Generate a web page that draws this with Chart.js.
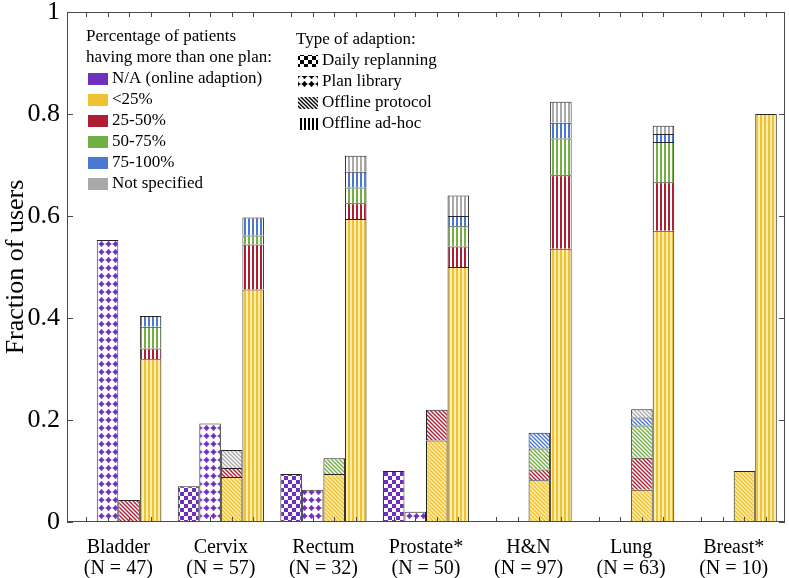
<!DOCTYPE html>
<html>
<head>
<meta charset="utf-8">
<script src="https://cdn.jsdelivr.net/npm/chart.js@4.4.1/dist/chart.umd.min.js"></script>
<style>
  body { margin: 0; background: #fff; }
  #wrap { width: 789px; height: 578px; }
</style>
</head>
<body>
<div id="wrap"><canvas id="myChart"></canvas></div>
<script>
// data
const sites = [['Bladder', '(N = 47)'], ['Cervix', '(N = 57)'], ['Rectum', '(N = 32)'], ['Prostate*', '(N = 50)'],
               ['H&N', '(N = 97)'], ['Lung', '(N = 63)'], ['Breast*', '(N = 10)']];
const adaptionTypes = ['Daily replanning', 'Plan library', 'Offline protocol', 'Offline ad-hoc'];
const planCategories = ['N/A (online adaption)', '<25%', '25-50%', '50-75%', '75-100%', 'Not specified'];
const yTicks = [0, 0.2, 0.4, 0.6, 0.8, 1];

// fraction of users, one array per (type, category)
const daily_na        = [0,     0.070, 0.094, 0.100, 0,     0,     0];
const plan_na         = [0.553, 0.193, 0.063, 0.020, 0,     0,     0];
const protocol_lt25   = [0,     0.088, 0.094, 0.160, 0.082, 0.063, 0.100];
const protocol_25_50  = [0.043, 0.018, 0,     0.060, 0.021, 0.063, 0];
const protocol_50_75  = [0,     0,     0.031, 0,     0.041, 0.063, 0];
const protocol_75_100 = [0,     0,     0,     0,     0.031, 0.016, 0];
const protocol_ns     = [0,     0.035, 0,     0,     0,     0.016, 0];
const adhoc_lt25      = [0.319, 0.456, 0.594, 0.500, 0.536, 0.571, 0.800];
const adhoc_25_50     = [0.021, 0.088, 0.031, 0.040, 0.144, 0.095, 0];
const adhoc_50_75     = [0.043, 0.018, 0.031, 0.040, 0.072, 0.079, 0];
const adhoc_75_100    = [0.021, 0.035, 0.031, 0.020, 0.031, 0.016, 0];
const adhoc_ns        = [0,     0,     0.031, 0.040, 0.041, 0.016, 0];

const empty = [0, 0, 0, 0, 0, 0, 0];
const seriesByType = [
    [daily_na, empty, empty, empty, empty, empty],
    [plan_na, empty, empty, empty, empty, empty],
    [empty, protocol_lt25, protocol_25_50, protocol_50_75, protocol_75_100, protocol_ns],
    [empty, adhoc_lt25, adhoc_25_50, adhoc_50_75, adhoc_75_100, adhoc_ns]
];

const colors = ['#6f30bd', '#efc232', '#ad1d33', '#72b043', '#4b79d2', '#a9a9a9'];
const tints  = ['#ffffff', '#fdeeb0', '#ffffff', '#ffffff', '#ffffff', '#ffffff'];
const catPct = 0.84;
const serif = "'Liberation Serif', 'DejaVu Serif', serif";

// fill patterns for the four types of adaption
function makePattern(type, color, bg) {
    const c = document.createElement('canvas');
    const g = c.getContext('2d');
    if (type === 0) {          // checkerboard
        c.width = 8; c.height = 8;
        g.fillStyle = bg; g.fillRect(0, 0, 8, 8);
        g.fillStyle = color;
        g.fillRect(0, 0, 4, 4); g.fillRect(4, 4, 4, 4);
    } else if (type === 1) {   // dots
        c.width = 7; c.height = 8;
        g.fillStyle = bg; g.fillRect(0, 0, 7, 8);
        g.fillStyle = color;
        g.beginPath(); g.arc(3.5, 4, 2.1, 0, Math.PI * 2); g.fill();
        g.fillRect(2.7, 1.2, 1.6, 5.6);
        g.fillRect(0.7, 3.2, 5.6, 1.6);
    } else if (type === 2) {   // diagonal hatching
        c.width = 4; c.height = 4;
        g.fillStyle = bg; g.fillRect(0, 0, 4, 4);
        g.strokeStyle = color; g.lineWidth = 1.4;
        g.beginPath();
        g.moveTo(-1, -1); g.lineTo(5, 5);
        g.moveTo(-1, 3); g.lineTo(1, 5);
        g.moveTo(3, -1); g.lineTo(5, 1);
        g.stroke();
    } else {                   // vertical stripes
        c.width = 4; c.height = 4;
        g.fillStyle = bg; g.fillRect(0, 0, 4, 4);
        g.fillStyle = color; g.fillRect(0, 0, 2, 4);
    }
    return g.createPattern(c, 'repeat');
}

const datasets = [];
adaptionTypes.forEach(function (t, ti) {
    planCategories.forEach(function (cat, ci) {
        datasets.push({
            label: t + ' / ' + cat,
            stack: t,
            data: seriesByType[ti][ci].map(v => v === 0 ? null : v),
            backgroundColor: makePattern(ti, colors[ci], tints[ci]),
            borderColor: '#262626',
            borderWidth: 1,
            borderSkipped: 'start',
            barPercentage: 1.0,
            categoryPercentage: catPct
        });
    });
});

const legendIcons = adaptionTypes.map((t, i) => makePattern(i, '#000', '#fff'));

const frame = {
    id: 'frame',
    afterDraw(chart) {
        const ctx = chart.ctx, a = chart.chartArea, x = chart.scales.x, y = chart.scales.y;
        ctx.save();
        ctx.strokeStyle = '#4a4a4a';
        ctx.lineWidth = 1;
        ctx.strokeRect(Math.round(a.left) + 0.5, Math.round(a.top) + 0.5,
                       Math.round(a.right - a.left) - 1, Math.round(a.bottom - a.top) - 1);
        ctx.beginPath();
        yTicks.forEach(function (v) {
            const py = Math.round(y.getPixelForValue(v)) + 0.5;
            ctx.moveTo(a.left, py); ctx.lineTo(a.left + 6, py);
            ctx.moveTo(a.right, py); ctx.lineTo(a.right - 6, py);
        });
        const gw = (a.right - a.left) / sites.length * catPct;
        sites.forEach(function (s, i) {
            for (let k = 0; k < 4; k++) {
                const px = Math.round(x.getPixelForValue(i) + (k - 1.5) * gw / 4) + 0.5;
                ctx.moveTo(px, a.bottom); ctx.lineTo(px, a.bottom - 5);
                ctx.moveTo(px, a.top); ctx.lineTo(px, a.top + 5);
            }
        });
        ctx.stroke();

        // legends
        ctx.font = '17px ' + serif;
        ctx.fillStyle = '#000';
        ctx.textBaseline = 'middle';
        ctx.fillText('Percentage of patients', 86, 37);
        ctx.fillText('having more than one plan:', 86, 58);
        planCategories.forEach(function (cat, i) {
            const cy = 79 + i * 21;
            ctx.fillStyle = colors[i];
            ctx.fillRect(88, cy - 6, 20, 12);
            ctx.fillStyle = '#000';
            ctx.fillText(cat, 112, cy);
        });
        ctx.fillText('Type of adaption:', 296, 40);
        adaptionTypes.forEach(function (t, i) {
            const cy = 61 + i * 21;
            ctx.fillStyle = legendIcons[i];
            ctx.fillRect(298, cy - 6, 20, 12);
            ctx.fillStyle = '#000';
            ctx.fillText(t, 322, cy);
        });
        ctx.restore();
    }
};

const ctx = document.getElementById('myChart');
const myChart = new Chart(ctx, {
    type: 'bar',
    data: {
        labels: sites,
        datasets: datasets
    },
    options: {
        responsive: true,
        maintainAspectRatio: false,
        animation: false,
        layout: { padding: { top: 12, right: 4, left: 0, bottom: 0 } },
        plugins: {
            legend: { display: false },
            tooltip: { enabled: false }
        },
        scales: {
            x: {
                stacked: true,
                grid: { display: false, drawTicks: false },
                border: { display: false },
                ticks: { color: '#000', font: { family: serif, size: 20, lineHeight: 1.05 }, padding: 15, maxRotation: 0, autoSkip: false },
                afterFit: function (s) { s.height = 56; s.paddingLeft = 0; s.paddingRight = 0; }
            },
            y: {
                stacked: true,
                min: 0,
                max: 1,
                grid: { display: false, drawTicks: false },
                border: { display: false },
                afterBuildTicks: function (s) { s.ticks = yTicks.map(v => ({ value: v })); },
                ticks: {
                    color: '#000', font: { family: serif, size: 26, lineHeight: 0.9 }, padding: 7,
                    callback: function (v) { return String(+Number(v).toFixed(1)); }
                },
                title: { display: true, text: 'Fraction of users', color: '#000', font: { family: serif, size: 26, lineHeight: 1.1 }, padding: 2 },
                afterFit: function (s) { s.width = 67; s.paddingTop = 0; s.paddingBottom = 0; }
            }
        }
    },
    plugins: [frame]
});
</script>
</body>
</html>
